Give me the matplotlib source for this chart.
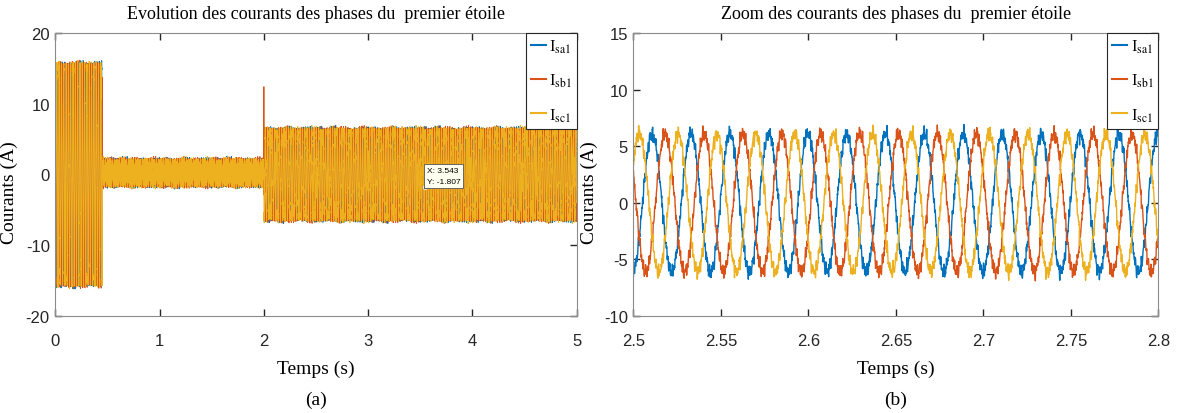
import matplotlib
matplotlib.use("Agg")
import matplotlib.pyplot as plt
import numpy as np

# --- signal description (stator currents, first star) ---
seg_start = [0.0, 0.45, 2.0]          # s
seg_end = [0.45, 2.0, 5.0]            # s
seg_amp = [15.4, 1.45, 6.1]           # A, fundamental peak per segment
seg_offset = [0.0, 0.25, 0.0]         # A
f_supply = 45.0                       # Hz
phase_shift_deg = [95.0, -25.0, 215.0]  # sa1, sb1, sc1

# PWM ripple riding on the currents
ripple_freq = [613.0, 887.0, 1231.0, 1597.0, 2113.0, 2741.0, 3307.0]
ripple_amp = [0.22, 0.2, 0.18, 0.16, 0.14, 0.12, 0.1]
ripple_phase = [0.0, 1.3, 2.1, 0.7, 2.9, 1.8, 0.4]

# load step transient on phase b
spike_time = 2.0
spike_value = 12.4

# data tip
tip_x = 3.543
tip_y = -1.807

names = ["I$_{\\mathrm{sa1}}$", "I$_{\\mathrm{sb1}}$", "I$_{\\mathrm{sc1}}$"]
colors = ["#0072BD", "#D95319", "#EDB120"]

dt = 1e-4
t = np.arange(0.0, 5.0 + dt, dt)


def phase_current(k):
    i = np.zeros_like(t)
    ph = np.deg2rad(phase_shift_deg[k])
    for a, b, amp, off in zip(seg_start, seg_end, seg_amp, seg_offset):
        m = (t >= a) & (t < b + dt / 2)
        i[m] = off + amp * np.sin(2 * np.pi * f_supply * t[m] + ph)
    for f, r, p in zip(ripple_freq, ripple_amp, ripple_phase):
        i += r * np.sin(2 * np.pi * f * t + p + 2.4 * k)
    return i


currents = [phase_current(k) for k in range(3)]
currents[1][np.argmin(np.abs(t - spike_time))] = spike_value

plt.rcParams["mathtext.fontset"] = "stix"
plt.rcParams["axes.unicode_minus"] = False
serif = ["Liberation Serif", "DejaVu Serif"]
sans = ["Liberation Sans", "DejaVu Sans"]

fig = plt.figure(figsize=(11.82, 4.14), dpi=100)
ax1 = fig.add_axes([0.0468, 0.2343, 0.4411, 0.6836])
ax2 = fig.add_axes([0.5358, 0.2343, 0.4442, 0.6836])


def style(ax, title, label, ylab_x):
    for s in ax.spines.values():
        s.set_color("#8c8c8c")
        s.set_linewidth(0.8)
    ax.tick_params(direction="in", length=5, width=1.0, color="#262626",
                   top=True, right=True, labelsize=12, labelcolor="#262626")
    ax.tick_params(axis="x", pad=12)
    ax.tick_params(axis="y", pad=4)
    for lab in ax.get_xticklabels() + ax.get_yticklabels():
        lab.set_family(sans)
    ax.set_title(title, family=serif, fontsize=13, pad=11)
    ax.set_ylabel("Courants (A)", family=serif, fontsize=14)
    ax.yaxis.set_label_coords(ylab_x, 0.44)
    ax.set_xlabel("Temps (s)", family=serif, fontsize=14, labelpad=9)
    leg = ax.legend(loc="upper right", borderaxespad=0, fancybox=False,
                    framealpha=1, edgecolor="#262626", handlelength=0.9,
                    handletextpad=0.2, labelspacing=1.0, borderpad=0.3,
                    prop={"family": serif, "size": 12})
    leg.get_frame().set_linewidth(0.8)
    for h in leg.get_lines():
        h.set_linewidth(1.5)
    x0, x1 = ax.get_position().x0, ax.get_position().x1
    fig.text((x0 + x1) / 2, 0.032, label, ha="center", va="center",
             family=serif, fontsize=14)


for i, n, c in zip(currents, names, colors):
    ax1.plot(t, i, color=c, lw=0.7, label=n)
ax1.set_xlim(0, 5)
ax1.set_ylim(-20, 20)
ax1.set_xticks([0, 1, 2, 3, 4, 5])
ax1.set_yticks([-20, -10, 0, 10, 20])
style(ax1, "Evolution des courants des phases du  premier étoile", "(a)", -0.072)

ax1.plot([tip_x], [tip_y], "o", ms=3, mfc="#262626", mec="white", mew=0.6, zorder=5)
ax1.annotate(f"X: {tip_x}\nY: {tip_y}", xy=(tip_x, tip_y), xytext=(1.5, 1.5),
             textcoords="offset points", ha="left", va="bottom", fontsize=6,
             family=sans, linespacing=1.8,
             bbox=dict(boxstyle="square,pad=0.35", fc="#FFFFF0", ec="#555555", lw=0.6),
             zorder=6)

m = (t >= 2.5 - dt) & (t <= 2.8 + dt)
for i, n, c in zip(currents, names, colors):
    ax2.plot(t[m], i[m], color=c, lw=1.0, label=n)
ax2.set_xlim(2.5, 2.8)
ax2.set_ylim(-10, 15)
ax2.set_xticks([2.5, 2.55, 2.6, 2.65, 2.7, 2.75, 2.8])
ax2.set_xticklabels(["2.5", "2.55", "2.6", "2.65", "2.7", "2.75", "2.8"])
ax2.set_yticks([-10, -5, 0, 5, 10, 15])
style(ax2, "Zoom des courants des phases du  premier étoile", "(b)", -0.067)

fig.savefig("out.png", dpi=100)
